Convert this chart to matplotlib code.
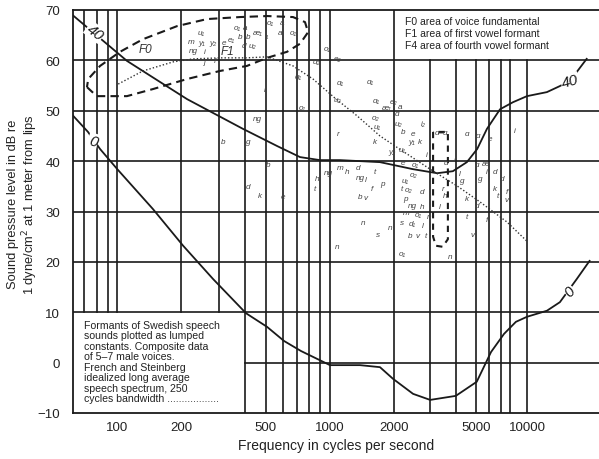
import numpy as np
import matplotlib.pyplot as plt

plt.rcParams['font.family'] = ['Liberation Sans', 'DejaVu Sans']

# calibration of the hand drawn logarithmic frequency axis
axis_freq = [1, 61.7, 2000, 5000, 26470, 1e6]
axis_pos = [-308, 72.7, 394, 475.7, 599, 867.8]

# grid of the original chart
grid_freq = [70, 80, 90, 100, 200, 300, 400, 500, 600, 700, 800, 900, 1000,
             2000, 3000, 4000, 5000, 6000, 7000, 8000, 10000]
grid_db = [0, 10, 20, 30, 40, 50, 60]
xtick_freq = [100, 200, 500, 1000, 2000, 5000, 10000]

# curve "40"
c40_freq = [62, 111, 159, 213, 390, 564, 723, 897, 1114, 1718, 2477, 3246, 3870,
            4530, 5100, 5820, 6950, 8280, 10000, 13090, 15600, 17800, 19600, 22400]
c40_db = [68.9, 59.9, 55.7, 52.3, 46.4, 43.0, 40.8, 40.2, 40.2, 39.8, 38.4, 37.6, 38.0,
          39.8, 42.4, 46.4, 50.3, 51.7, 52.9, 53.7, 54.9, 55.9, 57.7, 60.3]

# curve "0"
c0_freq = [62, 72.8, 83, 100, 147, 204, 282, 403, 506, 608, 731, 1000, 1384, 1718,
           1977, 2477, 3000, 4000, 5070, 6150, 7330, 8610, 10000, 13090, 15600, 19600, 23300]
c0_db = [49.0, 45.8, 42.4, 38.4, 30.5, 23.2, 16.6, 9.8, 7.1, 4.3, 2.3, -0.5, -0.5, -0.9,
         -3.2, -6.2, -7.4, -6.6, -3.8, 2.1, 5.7, 8.1, 9.1, 10.3, 12.0, 16.6, 20.2]

# French and Steinberg long average speech spectrum (dotted)
fs_freq = [101, 132, 183, 227, 304, 407, 506, 670, 832, 1056, 1340, 1718, 2022,
           3000, 4050, 5300, 7640, 10000]
fs_db = [55.3, 57.9, 59.7, 60.3, 60.5, 60.5, 60.7, 58.9, 56.3, 52.5, 49.0, 45.0, 43.0,
         38.4, 35.1, 31.9, 27.9, 24.1]

# F0 / F1 area outline
f0_freq = [72, 80, 111, 147, 213, 304, 407, 506, 628, 723, 789, 763, 670, 506,
           378, 264, 191, 132, 103, 83, 73, 72]
f0_db = [54.7, 52.9, 52.9, 54.3, 56.3, 57.9, 58.9, 60.5, 61.7, 63.3, 65.6, 67.6, 68.6,
         68.8, 68.6, 68.2, 66.8, 64.2, 61.7, 58.9, 56.3, 54.7]

# F4 area outline
f4_freq = [3100, 3100, 3200, 3450, 3660, 3660, 3100]
f4_db = [45.8, 25.0, 23.2, 23.0, 24.5, 45.8, 45.8]

# formants of Swedish speech sounds
ph_label = ["u₁", "m", "y₁", "y₂", "e", "e₁", "ng", "i", "j", "f",
            "o₁", "a", "b", "b", "æ₁", "i₁", "o₁", "a", "a", "o₁", "d", "u₂",
            "o₁", "e₂", "ɑ₂", "ɑ₁", "ɑ₁", "ɑ₁", "u₂", "o₁",
            "ɑ₁", "e₂", "æ₁", "a", "o₂", "ɑ", "i₂", "u₁", "u₂", "b", "e", "k",
            "y₁", "y₂", "u₁", "e", "o₁", "o₂", "i", "r", "k",
            "t", "d", "m", "h", "ng", "ng", "l", "h", "t", "f", "p", "b", "v",
            "u₁", "t", "o₂", "d", "p", "ng", "h", "m", "o₁", "n", "n", "n", "s",
            "d₁", "l", "s", "b", "v", "t", "n", "o₁", "n",
            "ng", "b", "g", "b", "d", "k", "e", "i",
            "ɑ", "ɑ", "e", "i", "ɑ", "æ", "i", "d", "g", "d", "l", "k", "t", "f",
            "v", "t", "f", "v", "g", "l", "r", "h", "l", "k", "d", "i", "ɑ", "ɑ–ɑ"]
ph_freq = [248, 222, 251, 283, 318, 345, 227, 258, 258, 288,
           365, 400, 378, 411, 459, 506, 522, 595, 582, 670, 392, 432,
           968, 1090, 869, 707, 1114, 1542, 1079, 739,
           1650, 1990, 1860, 2150, 1640, 2069, 2772, 1663, 2092, 2213, 2477, 2681,
           2450, 1956, 2188, 2213, 2534, 2477, 2900, 1090, 1627,
           1627, 1354, 1114, 1202, 978, 1384, 1476, 869, 850, 1576, 1756, 1384, 1476,
           2264, 2188, 2350, 2742, 2264, 2450, 2742, 2290, 2620, 2960, 1429, 1915, 2200,
           2450, 2770, 1681, 2396, 2620, 2840, 1079, 2188, 3743,
           454, 314, 411, 511, 411, 469, 601, 494,
           4533, 5157, 6067, 8503, 5088, 5700, 5824, 6487, 5297, 7134, 7900, 6487, 6760, 7636,
           7636, 4533, 5824, 4853, 4281, 4180, 3464, 3542, 3330, 4533, 5088, 3955, 3600, 3420]
ph_db = [65.6, 63.8, 63.6, 63.6, 63.6, 64.2, 61.9, 61.7, 59.7, 59.9,
         66.6, 66.6, 64.8, 64.8, 65.6, 65.0, 67.6, 67.6, 65.6, 65.6, 62.9, 62.9,
         62.3, 60.3, 59.7, 56.7, 55.7, 55.9, 52.3, 50.7,
         52.1, 51.9, 50.6, 50.9, 48.7, 49.4, 47.4, 46.8, 47.4, 45.8, 45.4, 43.8,
         43.8, 42.0, 42.4, 39.8, 39.4, 37.4, 41.4, 45.4, 43.8,
         38.0, 38.8, 38.8, 38.0, 37.8, 36.8, 36.3, 36.5, 34.5, 34.5, 35.5, 32.9, 32.7,
         36.1, 34.5, 34.3, 33.9, 32.5, 31.1, 30.9, 29.8, 29.5, 29.1, 27.9, 26.9, 27.9,
         27.6, 27.3, 25.5, 25.2, 25.2, 25.3, 23.0, 21.6, 21.0,
         48.4, 43.8, 43.8, 39.4, 34.9, 33.1, 32.9, 54.3,
         45.4, 45.0, 44.4, 46.0, 39.4, 39.6, 38.0, 38.0, 36.5, 36.5, 36.5, 34.5, 33.1, 33.9,
         32.3, 29.1, 28.5, 25.5, 36.1, 37.6, 34.5, 33.1, 30.9, 32.5, 31.1, 40.4, 39.8, 45.6]

area_label = ["F0", "F1"]
area_freq = [135, 330]
area_db = [62.3, 61.9]

# curve labels
clab_text = ["40", "0", "40", "0"]
clab_freq = [78.5, 76.9, 17880, 17830]
clab_db = [65.6, 44.0, 55.9, 14.2]
clab_rot = [-38, -15, 15, 50]


def fwd(f):
    f = np.maximum(np.asarray(f, dtype=float), 1e-6)
    return np.interp(np.log10(f), np.log10(axis_freq), axis_pos)


def inv(p):
    return 10 ** np.interp(p, axis_pos, np.log10(axis_freq))


fig = plt.figure(figsize=(5.99, 4.60), dpi=100)
ax = fig.add_axes([72.7 / 599, 1 - 414 / 460, 1 - 72.7 / 599, (414 - 11) / 460])
ax.set_xscale('function', functions=(fwd, inv))
xmin, xmax = 61.7, 26470
ax.set_xlim(xmin, xmax)
ax.set_ylim(-10, 70)

lc = '#1a1a1a'
# grid, leaving out the two text boxes
for f in grid_freq:
    lo = 10 if f < 400 else -10
    hi = 60 if f > 2000 else 70
    ax.plot([f, f], [lo, hi], color=lc, lw=1.2, zorder=1)
for d in grid_db:
    ax.plot([400 if d == 0 else xmin, xmax], [d, d], color=lc, lw=1.2, zorder=1)

ax.plot(c40_freq, c40_db, color=lc, lw=1.3, zorder=3)
ax.plot(c0_freq, c0_db, color=lc, lw=1.3, zorder=3)
ax.plot(fs_freq, fs_db, color='#333333', lw=1.0, ls=(0, (1, 1.5)), zorder=3)
ax.plot(f0_freq, f0_db, color=lc, lw=1.5, ls=(0, (4, 2.5)), zorder=3)
ax.plot(f4_freq, f4_db, color=lc, lw=1.5, ls=(0, (3, 2.5)), zorder=3)

for t, f, d in zip(ph_label, ph_freq, ph_db):
    ax.text(f, d, t, fontsize=5.9, style='italic', color='#444444',
            ha='center', va='center', zorder=4)

for t, f, d in zip(area_label, area_freq, area_db):
    ax.text(f, d, t, fontsize=8.5, style='italic', color='#333333',
            ha='center', va='center', zorder=4)

for t, f, d, r in zip(clab_text, clab_freq, clab_db, clab_rot):
    ax.text(f, d, t, fontsize=11, style='italic', color=lc, rotation=r,
            ha='center', va='center', zorder=5,
            bbox=dict(boxstyle='square,pad=0.05', fc='white', ec='none'))

ax.text(0.632, 0.985,
        "F0 area of voice fundamental\nF1 area of first vowel formant\nF4 area of fourth vowel formant",
        transform=ax.transAxes, fontsize=7.5, va='top', ha='left', linespacing=1.25, color='#222222')

ax.text(0.022, 0.232,
        "Formants of Swedish speech\nsounds plotted as lumped\nconstants. Composite data\n"
        "of 5–7 male voices.\nFrench and Steinberg\nidealized long average\n"
        "speech spectrum, 250\ncycles bandwidth ..................",
        transform=ax.transAxes, fontsize=7.6, va='top', ha='left', linespacing=1.07, color='#222222')

ax.set_xticks(xtick_freq)
ax.set_xticklabels([str(v) for v in xtick_freq])
ax.set_yticks(range(-10, 71, 10))
ax.xaxis.set_minor_locator(plt.NullLocator())
ax.tick_params(length=0, labelsize=9.5, colors='#222222')
ax.tick_params(axis='x', pad=6)
ax.tick_params(axis='y', pad=9)

ax.set_xlabel("Frequency in cycles per second", fontsize=10, color='#222222')
ax.xaxis.set_label_coords(0.5, -0.062)
ax.set_ylabel("Sound pressure level in dB re\n1 dyne/cm$^2$ at 1 meter from lips",
              fontsize=9.3, color='#222222', linespacing=1.1)
ax.yaxis.set_label_coords(-0.063, 0.52)

for s in ['top', 'left', 'bottom']:
    ax.spines[s].set_linewidth(1.3)
    ax.spines[s].set_color(lc)
ax.spines['right'].set_visible(False)

fig.savefig('out.png', dpi=100)
